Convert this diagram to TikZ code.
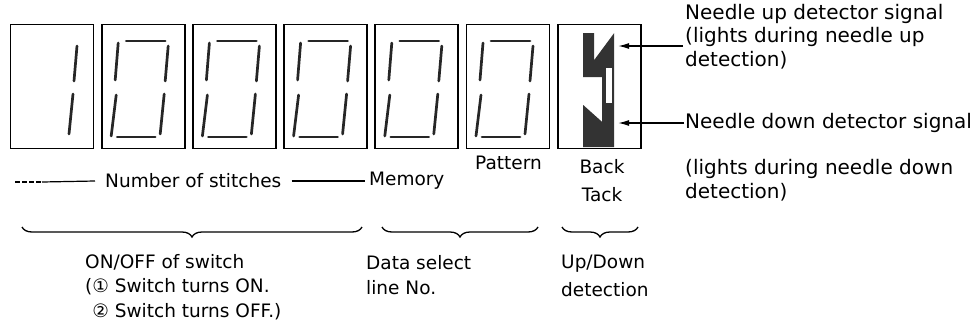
\documentclass[tikz,border=0pt]{standalone}
\usepackage{fontspec}
\setmainfont{DejaVu Sans}
\usetikzlibrary{arrows.meta,positioning,calc,decorations.pathreplacing}

\begin{document}
\begin{tikzpicture}[
  x=1pt,y=-1pt,
  digitbox/.style={draw,line width=1.8pt,minimum width=83pt,minimum height=124pt,inner sep=0pt},
  seg/.style={line width=2.7pt,line cap=round,black!85},
  lbl/.style={anchor=west,inner sep=1pt,align=left,font=\fontsize{18.5}{24.5}\selectfont},
  sidelbl/.style={anchor=west,inner sep=1pt,align=left,font=\fontsize{20}{23.5}\selectfont},
  sig/.style={-{Latex[length=11pt,width=6pt]},line width=1.3pt},
  rule/.style={line width=1.2pt},
  brc/.style={decorate,decoration={brace,mirror,amplitude=10pt},line width=1.3pt}
]
  \useasboundingbox (0,0) rectangle (974,327);
  % display windows
  \node[digitbox] (d1) at (52,86.5) {};
  \node[digitbox,right=6.4pt of d1] (d2) {};
  \node[digitbox,right=6.4pt of d2] (d3) {};
  \node[digitbox,right=6.4pt of d3] (d4) {};
  \node[digitbox,right=6.4pt of d4] (d5) {};
  \node[digitbox,right=6.4pt of d5] (d6) {};
  \node[digitbox,right=6.4pt of d6] (d7) {};
  % digit 1
  \draw[seg] ($(d1)+(25,-40.5)$) -- ($(d1)+(22,-5.5)$);
  \draw[seg] ($(d1)+(21,7.5)$) -- ($(d1)+(17,47.5)$);
  % digits 0
  \foreach \d in {d2,d3,d4,d5,d6}{
    \draw[seg] ($(\d)+(-17,-45.5)$) -- ($(\d)+(22,-45.5)$);
    \draw[seg] ($(\d)+(-25,-43.5)$) -- ($(\d)+(-28,-6.5)$);
    \draw[seg] ($(\d)+(25,-40.5)$) -- ($(\d)+(22,-5.5)$);
    \draw[seg] ($(\d)+(-27,8.5)$) -- ($(\d)+(-32,49.5)$);
    \draw[seg] ($(\d)+(21,7.5)$) -- ($(\d)+(17,47.5)$);
    \draw[seg] ($(\d)+(-26,50.5)$) -- ($(\d)+(12,50.5)$);
  }
  % back tack lamp
  \begin{scope}[shift={(d7.center)}]
    \fill[black!80] (-16,-53.5) -- (-5,-53.5) -- (-5,-26.5) -- (15,-53.5) -- (15,60.5)
      -- (-16,60.5) -- (-16,18.5) -- (3,35.5) -- (3,-9.5) -- (-16,-9.5) -- cycle;
    \fill[white] (7,-18.5) rectangle (13,16.5);
  \end{scope}
  \coordinate (uptip) at ($(d7)+(19,-40.5)$);
  \coordinate (dntip) at ($(d7)+(19,36.5)$);

  % detector signals
  \node[sidelbl] (upsig) at (684,36.5) {Needle up detector signal\\(lights during needle up\\detection)};
  \node[sidelbl] (dnsig) at (684,123) {Needle down detector signal};
  \node[sidelbl,font=\fontsize{20}{24}\selectfont] (dnnote) at (684,180) {(lights during needle down\\detection)};
  \coordinate (upfrom) at (683,46);
  \draw[sig] (upfrom) -- (uptip);
  \draw[sig] (dnsig.west) -- (dntip);

  % window names
  \node[lbl] (nos) at (104,181) {Number of stitches};
  \node[lbl] (mem) at (368,181) {Memory};
  \node[lbl] (pat) at (474,163) {Pattern};
  \node[lbl,anchor=center,align=center,font=\fontsize{18.5}{28}\selectfont] (bt) at (602,181) {Back\\Tack};
  \coordinate (nosa) at (15,182);
  \coordinate (nosb) at (42,182);
  \draw[rule,dash pattern=on 5pt off 2pt] (nosa) -- (nosb);
  \draw[rule] (nosb) -- ([xshift=-9pt]nos.west);
  \draw[rule] ([xshift=9pt]nos.east) -- ([xshift=-3pt]mem.west);

  % braces
  \coordinate (b1a) at (22,227);
  \coordinate (b1b) at (362,227);
  \coordinate (b2a) at (382,227);
  \coordinate (b2b) at (538,227);
  \coordinate (b3a) at (562,227);
  \coordinate (b3b) at (638,227);
  \draw[brc] (b1a) -- (b1b);
  \draw[brc] (b2a) -- (b2b);
  \draw[brc] (b3a) -- (b3b);

  % meanings
  \node[lbl] (sw) at (84,287) {ON/OFF of switch\\(① Switch turns ON.\\\phantom{(}② Switch turns OFF.)};
  \node[lbl,font=\fontsize{18.5}{25}\selectfont] (dsel) at (365,275) {Data select\\line No.};
  \node[lbl,font=\fontsize{18.5}{28}\selectfont] (updn) at (560,276) {Up/Down\\detection};
\end{tikzpicture}
\end{document}
